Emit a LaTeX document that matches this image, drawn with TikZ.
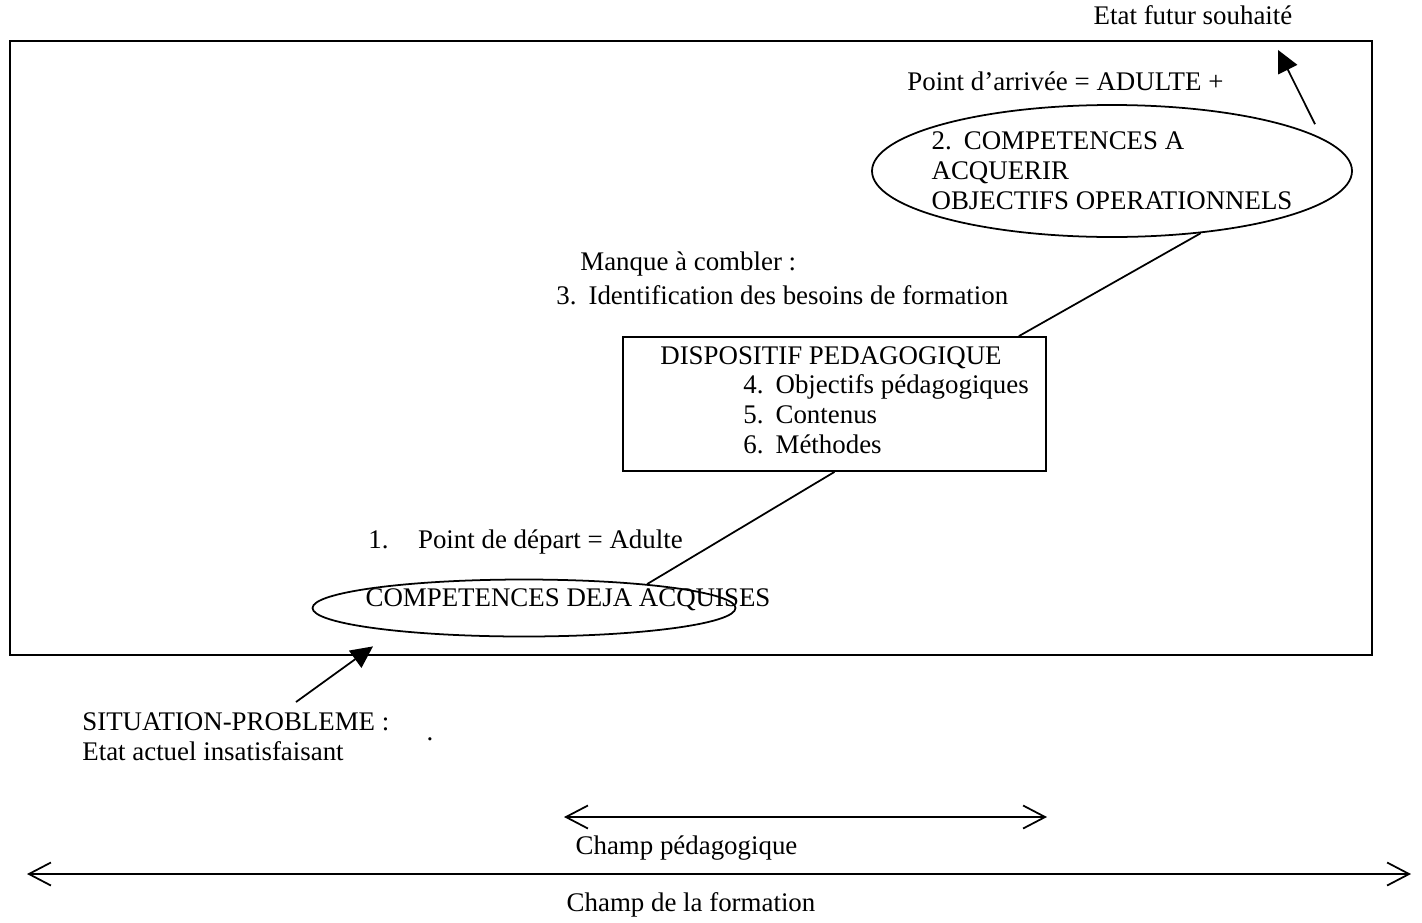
\documentclass[tikz,border=0pt]{standalone}
\usepackage{fontspec}
\setmainfont{Liberation Serif}
\usetikzlibrary{positioning, arrows.meta, shapes.geometric, calc}

\begin{document}
\begin{tikzpicture}[
  txt/.style={font=\fontsize{15.3}{17}\selectfont, inner sep=0pt, align=left},
  oval/.style={draw, ellipse, line width=1pt, inner sep=0pt},
  link/.style={line width=1pt},
  pointer/.style={line width=1pt, -{Triangle[length=0.44cm, width=0.42cm]}},
  span/.style={line width=1pt, {Straight Barb[length=0.44cm, width=0.46cm]}-{Straight Barb[length=0.44cm, width=0.46cm]}},
]
  \useasboundingbox (0,0) rectangle (28.44,-18.44);

  % cadre du champ
  \draw[line width=1pt] (0.2,-0.82) rectangle (27.44,-13.1);

  \node[txt] (futur) at (23.86,-0.3) {Etat futur souhait\'e};
  \node[txt, anchor=west] (arrivee) at (18.14,-1.62) {Point d'arriv\'ee = ADULTE +};

  \node[oval, minimum width=9.6cm, minimum height=2.64cm] (goal) at (22.24,-3.42) {};
  \node[txt] (goaltext) at (goal.center)
    {2.\hspace{0.45em}COMPETENCES A\\ACQUERIR\\OBJECTIFS OPERATIONNELS};

  \node[txt, anchor=west] (manque) at (11.6,-5.28) {Manque \`a combler :};
  \node[txt, anchor=west] (besoins) at (11.12,-5.9)
    {3.\hspace{0.45em}Identification des besoins de formation};

  \node[draw, line width=1pt, minimum width=8.46cm, minimum height=2.68cm] (disp) at (16.69,-8.08) {};
  \node[txt, anchor=west] (disptitle) at (13.2,-7.16) {DISPOSITIF PEDAGOGIQUE};
  \node[txt, anchor=north west] (displist) at (14.86,-7.48)
    {4.\hspace{0.45em}Objectifs p\'edagogiques\\5.\hspace{0.45em}Contenus\\6.\hspace{0.45em}M\'ethodes};

  \node[txt, anchor=west] (depart) at (7.36,-10.84) {1.\hspace{1.1em}Point de d\'epart = Adulte};

  \node[oval, minimum width=8.46cm, minimum height=1.14cm] (start) at (10.48,-12.16) {};
  \node[txt] (starttext) at (11.36,-12.0) {COMPETENCES DEJA ACQUISES};

  \node[txt, anchor=north west] (situation) at (1.64,-14.24)
    {SITUATION-PROBLEME :\\Etat actuel insatisfaisant};
  \node[txt, anchor=base] (dot) at (8.6,-14.8) {.};

  \draw[link] ([xshift=-0.56cm]disp.north east) -- (goal.-35);
  \draw[link] (disp.south) -- (start.11);
  \draw[pointer] ([xshift=4.28cm, yshift=0.2cm]situation.north west) -- ([xshift=-3.02cm, yshift=-0.18cm]start.south);
  \draw[pointer] ([xshift=4.06cm, yshift=-0.4cm]goal.north) -- ([xshift=1.7cm, yshift=-0.5cm]futur.south);

  % champs
  \coordinate (pedL) at (11.28,-16.34);
  \coordinate (pedR) at (20.94,-16.34);
  \coordinate (forL) at (0.54,-17.48);
  \coordinate (forR) at (28.22,-17.48);
  \draw[span] (pedL) -- (pedR);
  \draw[span] (forL) -- (forR);
  \node[txt] (champped) at (13.73,-16.96) {Champ p\'edagogique};
  \node[txt] (champfor) at (13.82,-18.1) {Champ de la formation};
\end{tikzpicture}
\end{document}
